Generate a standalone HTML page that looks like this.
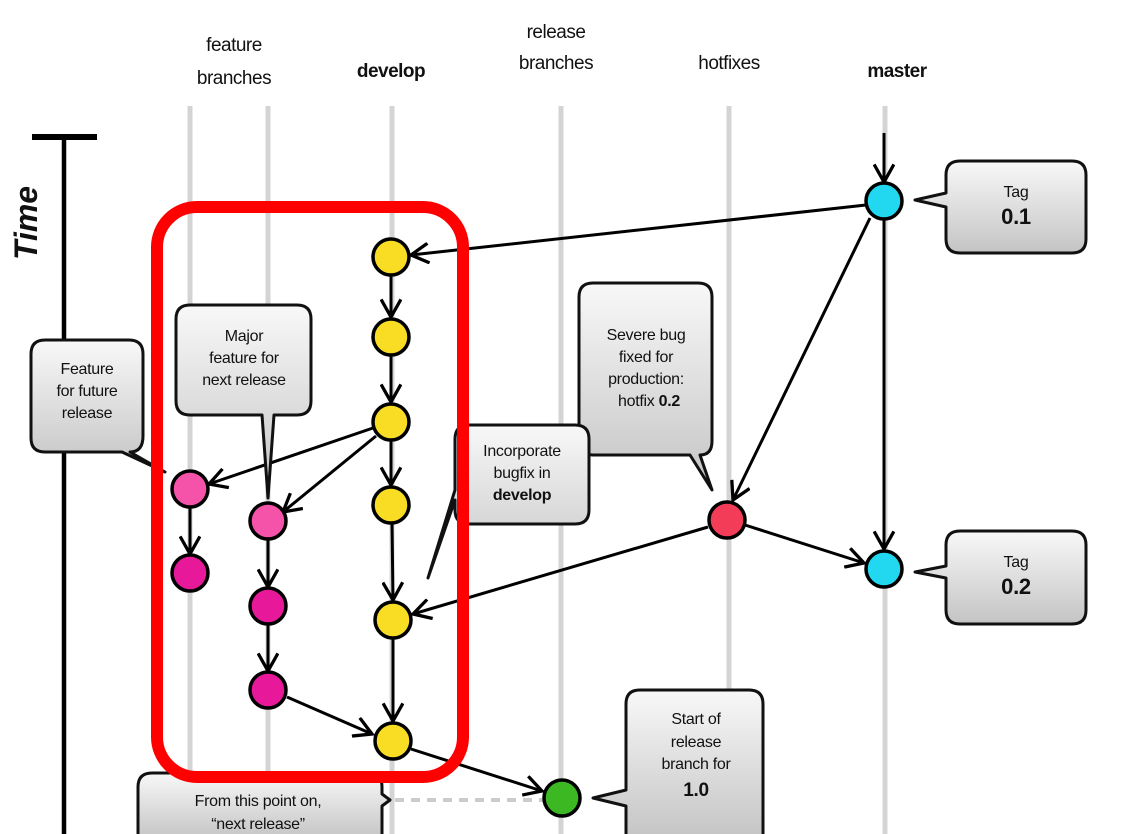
<!DOCTYPE html>
<html><head><meta charset="utf-8"><style>
html,body{margin:0;padding:0;background:#fff;}
svg{display:block;}
text{font-family:"Liberation Sans",sans-serif;fill:#111;}
</style></head><body>
<svg width="1126" height="834" viewBox="0 0 1126 834" xmlns="http://www.w3.org/2000/svg">
<defs>
<linearGradient id="g" x1="0" y1="0" x2="0" y2="1">
<stop offset="0" stop-color="#f8f8f8"/><stop offset="1" stop-color="#c4c4c4"/>
</linearGradient>
<marker id="a" viewBox="0 0 20 20" refX="17" refY="10" markerWidth="22" markerHeight="22" markerUnits="userSpaceOnUse" orient="auto">
<path d="M1,1 L17,10 L1,19" fill="none" stroke="#000" stroke-width="3"/>
</marker>
</defs>
<g font-size="19" text-anchor="middle" letter-spacing="-0.5">
<text x="234" y="51">feature</text><text x="234" y="84">branches</text>
<text x="391" y="77" font-weight="bold">develop</text>
<text x="556" y="38">release</text><text x="556" y="69">branches</text>
<text x="729" y="69">hotfixes</text>
<text x="897" y="77" font-weight="bold">master</text>
</g>
<g stroke="#d4d4d4" stroke-width="5">
<line x1="190" y1="106" x2="190" y2="834"/><line x1="268" y1="106" x2="268" y2="834"/>
<line x1="392" y1="106" x2="392" y2="834"/><line x1="561" y1="106" x2="561" y2="834"/>
<line x1="729" y1="106" x2="729" y2="834"/><line x1="885" y1="106" x2="885" y2="834"/>
</g>
<line x1="32" y1="137" x2="97" y2="137" stroke="#000" stroke-width="6"/>
<line x1="64" y1="138" x2="64" y2="834" stroke="#000" stroke-width="4.5"/>
<text transform="translate(37,260) rotate(-90)" font-size="32" font-weight="bold" font-style="italic">Time</text>
<g stroke="#000" stroke-width="3" fill="none" marker-end="url(#a)">
<line x1="884" y1="133" x2="884" y2="182"/>
<line x1="866" y1="205" x2="411" y2="255"/>
<line x1="870" y1="218" x2="733" y2="500"/>
<line x1="884" y1="220" x2="884" y2="549"/>
<line x1="745" y1="525" x2="864" y2="563"/>
<line x1="708" y1="527" x2="413" y2="614"/>
<line x1="391" y1="275" x2="391" y2="317"/>
<line x1="391" y1="355" x2="391" y2="402"/>
<line x1="391" y1="440" x2="391" y2="485"/>
<line x1="392" y1="523" x2="393" y2="600"/>
<line x1="393" y1="638" x2="393" y2="721"/>
<line x1="373" y1="428" x2="209" y2="484"/>
<line x1="376" y1="436" x2="283" y2="512"/>
<line x1="190" y1="507" x2="190" y2="554"/>
<line x1="268" y1="539" x2="268" y2="587"/>
<line x1="268" y1="624" x2="268" y2="671"/>
<line x1="287" y1="697" x2="372" y2="734"/>
<line x1="411" y1="749" x2="542" y2="791"/>
</g>
<line x1="395" y1="800" x2="543" y2="800" stroke="#ccc" stroke-width="4" stroke-dasharray="9,7"/>
<g stroke="#000" stroke-width="3.5">
<g fill="#f9dc24">
<circle cx="391" cy="257" r="18"/><circle cx="391" cy="337" r="18"/><circle cx="391" cy="422" r="18"/>
<circle cx="391" cy="505" r="18"/><circle cx="393" cy="620" r="18"/><circle cx="393" cy="741" r="18"/>
</g>
<circle cx="190" cy="489" r="18" fill="#f552aa"/><circle cx="190" cy="573" r="18" fill="#e8189a"/>
<circle cx="268" cy="521" r="18" fill="#f552aa"/><circle cx="268" cy="606" r="18" fill="#e8189a"/><circle cx="268" cy="690" r="18" fill="#e8189a"/>
<circle cx="884" cy="201" r="18" fill="#22d8f0"/><circle cx="884" cy="569" r="18" fill="#22d8f0"/>
<circle cx="727" cy="520" r="18" fill="#f33c58"/>
<circle cx="562" cy="798" r="18" fill="#3cb823"/>
</g>
<g fill="url(#g)" stroke="#111" stroke-width="3" stroke-linejoin="round">
<path d="M960,161 H1072 Q1086,161 1086,175 V239 Q1086,253 1072,253 H960 Q946,253 946,239 V207 L915,200 L946,193 V175 Q946,161 960,161 Z"/>
<path d="M960,531 H1072 Q1086,531 1086,545 V610 Q1086,624 1072,624 H960 Q946,624 946,610 V578 L915,572 L946,566 V545 Q946,531 960,531 Z"/>
<path d="M45,340 H129 Q143,340 143,354 V436 Q143,452 130,452 H130 L165,472 L122,452 H45 Q31,452 31,438 V354 Q31,340 45,340 Z"/>
<path d="M190,305 H297 Q311,305 311,319 V401 Q311,415 297,415 H274 L268,498 L262,415 H190 Q176,415 176,401 V319 Q176,305 190,305 Z"/>
<path d="M593,283 H698 Q712,283 712,297 V441 Q712,455 700,455 L712,490 L690,455 H593 Q579,455 579,441 V297 Q579,283 593,283 Z"/>
<path d="M469,425 H575 Q589,425 589,439 V510 Q589,524 575,524 H469 Q455,524 455,510 V500 L428,578 L455,490 V439 Q455,425 469,425 Z"/>
<path d="M640,690 H749 Q763,690 763,704 V840 H626 V806 L593,798 L626,790 V704 Q626,690 640,690 Z"/>
<path d="M152,773 H368 Q382,773 382,787 V794 L390,800 L382,806 V840 H138 V787 Q138,773 152,773 Z"/>
</g>
<g font-size="16" text-anchor="middle" letter-spacing="-0.3">
<text x="1016" y="197">Tag</text><text x="1016" y="224" font-size="22" font-weight="bold">0.1</text>
<text x="1016" y="567">Tag</text><text x="1016" y="594" font-size="22" font-weight="bold">0.2</text>
<text x="87" y="374">Feature</text><text x="87" y="396">for future</text><text x="87" y="418">release</text>
<text x="244" y="341">Major</text><text x="244" y="363">feature for</text><text x="244" y="385">next release</text>
<text x="646" y="340">Severe bug</text><text x="646" y="362">fixed for</text><text x="646" y="384">production:</text>
<text x="649" y="406">hotfix <tspan font-weight="bold">0.2</tspan></text>
<text x="522" y="456">Incorporate</text><text x="522" y="478">bugfix in</text><text x="522" y="500" font-weight="bold">develop</text>
<text x="696" y="724">Start of</text><text x="696" y="747">release</text><text x="696" y="769">branch for</text>
<text x="696" y="796" font-size="19" font-weight="bold">1.0</text>
<text x="258" y="806">From this point on,</text><text x="258" y="829">“next release”</text>
</g>
<rect x="157" y="207" width="306" height="570" rx="40" fill="none" stroke="#ff0000" stroke-width="12"/>
</svg>
</body></html>
